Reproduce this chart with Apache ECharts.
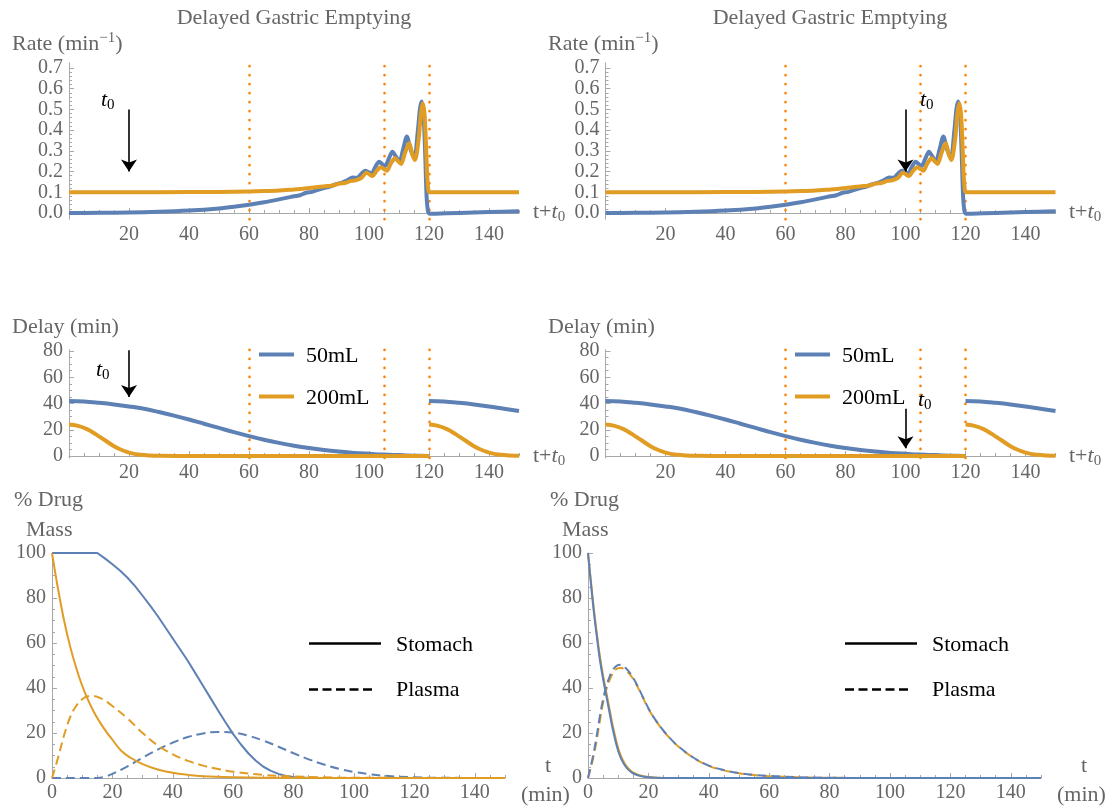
<!DOCTYPE html>
<html><head><meta charset="utf-8">
<script src="https://cdn.jsdelivr.net/npm/echarts@6/dist/echarts.min.js"></script>
<style>html,body{margin:0;padding:0;background:#fff}#c{width:1114px;height:807px}</style>
</head><body><div id="c"></div>
<script>
// ---------- DATA ----------
const markerTimes = [60, 105, 120];
const xLabelsTop = [20, 40, 60, 80, 100, 120, 140];
const xLabelsBottom = [0, 20, 40, 60, 80, 100, 120, 140];
const yLabelsRate = [0, 0.1, 0.2, 0.3, 0.4, 0.5, 0.6, 0.7];
const yLabelsDelay = [0, 20, 40, 60, 80];
const yLabelsMass = [0, 20, 40, 60, 80, 100];

// Row 1: gastric emptying rate (min^-1)
const rateT50 = [0,10,20,30,40,50,55,60,65,70,74,77,79,81,83,85,87,89,91,93,94.5,96,97.5,98.7,100,100.9,102.2,103.4,104.4,105.3,106.6,107.8,109,110.1,111.4,112.6,113.9,115.1,116.3,117,117.6,118.2,118.7,119.2,119.7,120.3,122,130,140,150];
const rate50  = [0,0.001,0.003,0.006,0.012,0.022,0.030,0.040,0.052,0.066,0.078,0.086,0.098,0.102,0.112,0.120,0.128,0.140,0.147,0.160,0.172,0.170,0.190,0.204,0.196,0.192,0.225,0.248,0.236,0.227,0.262,0.296,0.272,0.248,0.310,0.369,0.305,0.264,0.400,0.505,0.538,0.470,0.300,0.080,0.005,-0.004,-0.003,0.000,0.005,0.009];
const rateT200 = [0,20,40,50,60,65,70,75,78,80,83,86,88,90,92,94,95.5,97.5,99.2,100.2,101.1,102.6,104,105,105.9,107.3,108.7,109.7,110.7,112,113.4,114.4,115.3,116.5,117.3,117.9,118.5,119,119.4,119.8,120.2,125,150];
const rate200  = [0.100,0.100,0.101,0.102,0.104,0.106,0.109,0.114,0.117,0.121,0.126,0.130,0.133,0.142,0.145,0.155,0.158,0.170,0.195,0.186,0.179,0.205,0.221,0.212,0.204,0.240,0.264,0.250,0.237,0.290,0.337,0.285,0.256,0.350,0.480,0.530,0.480,0.330,0.180,0.110,0.100,0.100,0.100];

// Row 2: delay (min), break at 120
const delayT50 = [0,5,10,15,20,25,30,35,40,45,50,55,60,65,70,75,80,85,90,95,100,105,110,115,120,120,120,125,130,135,140,145,150];
const delay50  = [42,41.5,40.5,39.3,37.8,36,33.5,30.8,27.8,24.6,21.4,18.2,15.2,12.4,10,7.9,6.1,4.6,3.4,2.4,1.7,1.1,0.7,0.3,0,null,42,41.5,40.5,39.3,37.8,36,34.3];
const delayT200 = [0,3,6,9,12,15,18,21,24,27,30,40,60,80,100,120,120,120,123,126,129,132,135,138,141,144,147,150];
const delay200  = [24,23,20.5,16.5,12,7.5,4.2,2,0.9,0.4,0.2,0,0,0,0,0,null,24,23,20.5,16.5,12,7.5,4.2,2,0.9,0.4,0.2];

// Row 3 left: % drug mass
const stomT50L = [0,15,17.5,20,22.5,25,27.5,30,32.5,35,37.5,40,42.5,45,47.5,50,52.5,55,57.5,60,62.5,65,67.5,70,72.5,75,77.5,80,85,90,150];
const stom50L  = [100,100,97.6,95,92.2,89,85.3,81,76.6,72,67,62,57,52,46.5,41,35.5,30,24.7,19.5,15,11,7.7,5,3.2,1.8,0.9,0.4,0,0,0];
const plasT50L = [0,15,18,20,25,30,35,40,45,50,55,60,65,70,75,80,85,90,95,100,105,110,120,130,150];
const plas50L  = [0,0,0.8,1.8,5.2,9,12.6,15.7,18.2,19.8,20.5,20.2,18.8,16.6,13.9,11,8.3,6,4.1,2.7,1.7,1,0.3,0.1,0];
const stomT200L = [0,2,4,6,8,10,12,14,16,18,20,23,26,30,35,40,45,50,60,70,150];
const stom200L  = [100,84,70,58.5,49,41,34.5,29,24.5,20.5,17,12,9,6.2,3.8,2.3,1.4,0.8,0.3,0.1,0];
const plasT200L = [0,2,4,6,8,10,12,14,16,18,20,25,30,35,40,45,50,55,60,70,80,90,100,150];
const plas200L  = [0,9,19,27,32,35,36.3,36.3,35.5,34,32,26.5,20,14.5,10.5,7.6,5.5,4,2.8,1.4,0.7,0.3,0.1,0];

// Row 3 right
const stomTR = [0,1,2,3,4,5,6,7,8,9,10,11,12,13,14,15,17,20,25,150];
const stom50R  = [100,86,73,62,52,44,37,30,23,17,12,8.5,6,4.2,3,2,1,0.3,0,0];
const stom200R = [100,87,74.5,63.5,53.5,45.5,38.5,31.5,24.5,18.5,13.2,9.5,6.8,4.8,3.4,2.4,1.2,0.4,0,0];
const plasTR = [0,2,4,5,6,7,8,9,10,11,12,14,16,18,20,22,25,28,30,35,40,45,50,55,60,70,80,100,150];
const plas50R  = [0,12,28,35,40.5,44.5,47.5,49.3,50.2,50.3,49.5,46.5,42,36.5,31,26.5,21,16.5,14,9,5.5,3.5,2.2,1.4,0.9,0.35,0.1,0,0];
const plas200R = [0,10.5,26,33.5,39,43,46,48,48.8,48.9,48.3,45.8,41.5,36.2,30.8,26.4,20.9,16.4,13.9,8.9,5.4,3.4,2.1,1.3,0.8,0.3,0.1,0,0];

// ---------- STYLE ----------
const FONT = "'Liberation Serif','DejaVu Serif',serif";
const BLUE = '#5E81B5', ORANGE = '#E19C24', MARK = '#FF8000';
const AX = '#a8a8a8', TXT = '#666666';

const grids = [
  {left:69, top:62.85, width:450, height:156.4},
  {left:605.5, top:62.85, width:450, height:156.4},
  {left:69, top:349.7, width:450, height:108.3},
  {left:605.5, top:349.7, width:450, height:108.3},
  {left:52, top:553, width:453, height:225},
  {left:588, top:553, width:453, height:225}
];

function minorOf(majors, step, lo, hi) {
  const out = [];
  for (let v = lo; v <= hi + 1e-9; v += step) {
    const r = Math.round(v * 1000) / 1000;
    if (!majors.some(m => Math.abs(m - r) < 1e-6)) out.push(r);
  }
  return out;
}

function xAxesFor(g, labels) {
  const minors = minorOf(labels.concat([0]), 5, 0, 150);
  return [
    {type:'value', gridIndex:g, position:'bottom', min:0, max:150,
     axisLine:{show:true, onZero:true, onZeroAxisIndex:2*g, lineStyle:{color:AX, width:1}},
     axisTick:{show:true, inside:true, length:5, customValues:labels, lineStyle:{color:AX}},
     axisLabel:{show:true, customValues:labels, margin:5, fontFamily:FONT, fontSize:20, color:TXT},
     splitLine:{show:false}},
    {type:'value', gridIndex:g, position:'bottom', min:0, max:150,
     axisLine:{show:true, onZero:true, onZeroAxisIndex:2*g, lineStyle:{color:'rgba(0,0,0,0)'}},
     axisTick:{show:true, inside:true, length:3, customValues:minors, lineStyle:{color:AX}},
     axisLabel:{show:false}, splitLine:{show:false}}
  ];
}
function yAxesFor(g, min, max, labels, step, fmt) {
  const minors = minorOf(labels, step, labels[0], labels[labels.length-1]);
  return [
    {type:'value', gridIndex:g, position:'left', min, max,
     axisLine:{show:true, onZero:false, lineStyle:{color:AX, width:1}},
     axisTick:{show:true, inside:true, length:5, customValues:labels, lineStyle:{color:AX}},
     axisLabel:{show:true, customValues:labels, formatter:fmt, margin:6, fontFamily:FONT, fontSize:20, color:TXT},
     splitLine:{show:false}},
    {type:'value', gridIndex:g, position:'left', min, max,
     axisLine:{show:false, onZero:false},
     axisTick:{show:true, inside:true, length:3, customValues:minors, lineStyle:{color:AX}},
     axisLabel:{show:false}, splitLine:{show:false}}
  ];
}

const xAxis = [], yAxis = [];
for (let g = 0; g < 6; g++) {
  xAxis.push(...xAxesFor(g, g < 4 ? xLabelsTop : xLabelsBottom));
  if (g < 2) yAxis.push(...yAxesFor(g, -0.03, 0.725, yLabelsRate, 0.02, v => v.toFixed(1)));
  else if (g < 4) yAxis.push(...yAxesFor(g, -1.5, 81, yLabelsDelay, 5, v => String(v)));
  else yAxis.push(...yAxesFor(g, 0, 100, yLabelsMass, 5, v => String(v)));
}

function pts(t, v) { return t.map((x, i) => [x, v[i]]); }
function curve(g, t, v, color, width, dashed, smooth, z) {
  return {type:'line', xAxisIndex:2*g, yAxisIndex:2*g, data:pts(t, v),
    showSymbol:false, symbol:'none', smooth:smooth, connectNulls:false,
    silent:true, z:z || 2, clip:false,
    lineStyle:{color, width, type: dashed ? [9, 5] : 'solid', cap:'butt', join:'round'}};
}
function markers(g) {
  return {type:'line', xAxisIndex:2*g, yAxisIndex:2*g, data:[], silent:true, z:1,
    markLine:{silent:true, z:1, symbol:'none', animation:false, label:{show:false},
      lineStyle:{color:MARK, width:2.6, type:[0.1, 8.9], cap:'round'},
      data: markerTimes.map(x => ({xAxis:x}))}};
}
function arrow(g, x, y1, y2) {
  return {type:'line', xAxisIndex:2*g, yAxisIndex:2*g, data:[], silent:true, z:10,
    markLine:{silent:true, z:10, symbol:['none','arrow'], symbolSize:12, animation:false, label:{show:false},
      lineStyle:{color:'#000', width:1.6, type:'solid'},
      data:[[{coord:[x, y1]}, {coord:[x, y2]}]]}};
}

const series = [];
for (let g = 0; g < 2; g++) {
  series.push(markers(g));
  series.push(curve(g, rateT50, rate50, BLUE, 4, false, 0.3, 2));
  series.push(curve(g, rateT200, rate200, ORANGE, 4, false, 0.3, 3));
}
for (let g = 2; g < 4; g++) {
  series.push(markers(g));
  series.push(curve(g, delayT50, delay50, BLUE, 4, false, 0.4, 2));
  series.push(curve(g, delayT200, delay200, ORANGE, 4, false, 0.4, 3));
}
series.push(curve(4, stomT50L, stom50L, BLUE, 2, false, false, 2));
series.push(curve(4, plasT50L, plas50L, BLUE, 2, true, 0.4, 2));
series.push(curve(4, stomT200L, stom200L, ORANGE, 2, false, 0.4, 3));
series.push(curve(4, plasT200L, plas200L, ORANGE, 2, true, 0.4, 3));
series.push(curve(5, stomTR, stom200R, ORANGE, 2, false, 0.4, 2));
series.push(curve(5, plasTR, plas200R, ORANGE, 2, true, 0.4, 2));
series.push(curve(5, stomTR, stom50R, BLUE, 2, false, 0.4, 3));
series.push(curve(5, plasTR, plas50R, BLUE, 2, true, 0.4, 3));
series.push(arrow(0, 20, 0.50, 0.20));
series.push(arrow(1, 100, 0.50, 0.20));
series.push(arrow(2, 20, 80.5, 45));
series.push(arrow(3, 100, 36, 6));

// ---------- TEXT ----------
const RICH = {
  i:{fontFamily:FONT, fontSize:22, fontStyle:'italic', lineHeight:26},
  sub:{fontFamily:FONT, fontSize:15, lineHeight:12, verticalAlign:'bottom'},
  sup:{fontFamily:FONT, fontSize:15, lineHeight:12, verticalAlign:'top'}
};
function txt(x, y, text, color, opts) {
  opts = opts || {};
  return {type:'text', x, y, silent:true, z:20,
    style:{text, fill:color, font:(opts.size || 22) + 'px ' + FONT,
      align:opts.align || 'left', verticalAlign:'middle', lineHeight:26,
      rich:JSON.parse(JSON.stringify(RICH))}};
}
const graphic = [];
graphic.push(txt(294, 18, 'Delayed Gastric Emptying', TXT, {align:'center'}));
graphic.push(txt(830, 18, 'Delayed Gastric Emptying', TXT, {align:'center'}));
[0, 536].forEach(dx => {
  graphic.push(txt(12 + dx, 44, 'Rate (min{sup|−1})', TXT));
  graphic.push(txt(12 + dx, 327, 'Delay (min)', TXT));
  graphic.push(txt(14 + dx, 500, '% Drug', TXT));
  graphic.push(txt(26 + dx, 530, 'Mass', TXT));
  graphic.push(txt(533 + dx, 212, 't+{i|t}{sub|0}', TXT));
  graphic.push(txt(533 + dx, 456, 't+{i|t}{sub|0}', TXT));
  graphic.push(txt(545 + dx, 766, 't', TXT));
  graphic.push(txt(521 + dx, 795, '(min)', TXT));
  // legends
  graphic.push({type:'line', silent:true, shape:{x1:259+dx, y1:354.5, x2:294+dx, y2:354.5}, style:{stroke:BLUE, lineWidth:4}});
  graphic.push({type:'line', silent:true, shape:{x1:259+dx, y1:396.5, x2:294+dx, y2:396.5}, style:{stroke:ORANGE, lineWidth:4}});
  graphic.push(txt(306 + dx, 356, '50mL', '#000'));
  graphic.push(txt(306 + dx, 398, '200mL', '#000'));
  graphic.push({type:'line', silent:true, shape:{x1:309+dx, y1:643.5, x2:381+dx, y2:643.5}, style:{stroke:'#000', lineWidth:2.3}});
  graphic.push({type:'line', silent:true, shape:{x1:309+dx, y1:689.5, x2:375+dx, y2:689.5}, style:{stroke:'#000', lineWidth:2.3, lineDash:[9,4.5]}});
  graphic.push(txt(396 + dx, 645, 'Stomach', '#000'));
  graphic.push(txt(396 + dx, 690, 'Plasma', '#000'));
});
graphic.push(txt(101, 100, '{i|t}{sub|0}', '#000'));
graphic.push(txt(920, 100, '{i|t}{sub|0}', '#000'));
graphic.push(txt(96, 370, '{i|t}{sub|0}', '#000'));
graphic.push(txt(918, 400, '{i|t}{sub|0}', '#000'));

const chart = echarts.init(document.getElementById('c'), null, {renderer:'canvas'});
chart.setOption({animation:false, backgroundColor:'#fff', grid:grids, xAxis, yAxis, series, graphic});
</script></body></html>
